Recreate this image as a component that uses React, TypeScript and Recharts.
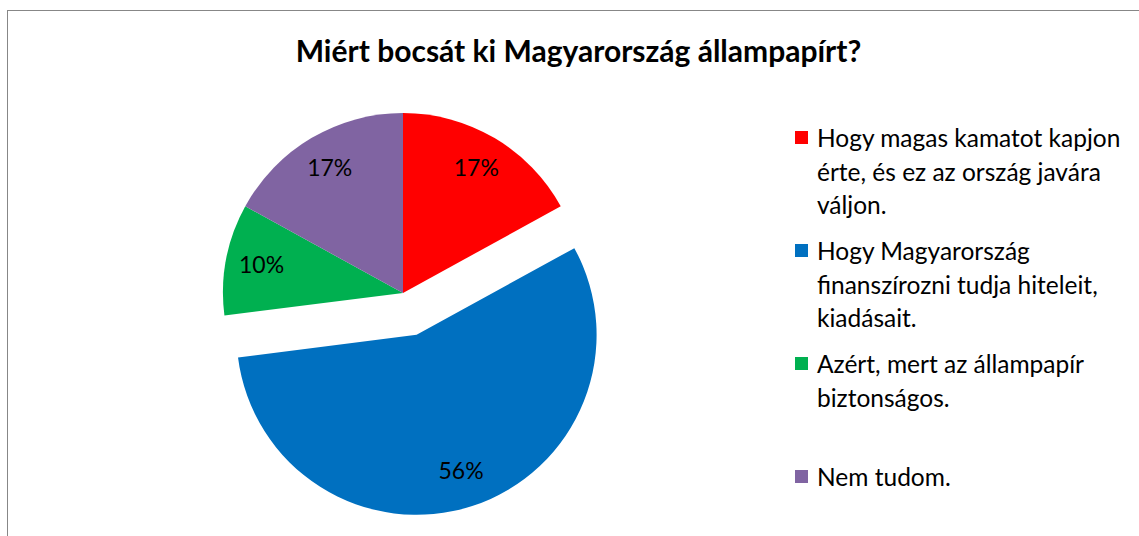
import React from "react"
import { PieChart, Pie, Cell, Legend } from "recharts"

// Miért bocsát ki Magyarország állampapírt? (survey answers, %)
const categories = [
  "Hogy magas kamatot kapjon\nérte, és ez az ország javára\nváljon.",
  "Hogy Magyarország\nfinanszírozni tudja hiteleit,\nkiadásait.",
  "Azért, mert az állampapír\nbiztonságos.",
  "Nem tudom.",
]
const shares = [17, 56, 10, 17]
const colors = ["#FF0000", "#0070C0", "#00B050", "#8064A2"]
const explodedIndex = 1

const title = "Miért bocsát ki Magyarország állampapírt?"

const FONT = "Lato, 'Open Sans', sans-serif"
const RAD = Math.PI / 180

const data = categories.map((name, i) => ({ name, value: shares[i] }))

const PIE_CX = 403
const PIE_CY = 293
const RADIUS = 180
const EXPLODE = 44

// direction of the exploded slice, clockwise from 12 o'clock
const total = shares.reduce((a, b) => a + b, 0)
const before = shares.slice(0, explodedIndex).reduce((a, b) => a + b, 0)
const midDeg = ((before + shares[explodedIndex] / 2) / total) * 360
const offX = EXPLODE * Math.sin(midDeg * RAD)
const offY = -EXPLODE * Math.cos(midDeg * RAD)

const makeLabel = (show: (i: number) => boolean) => (props: any) => {
  const { cx, cy, midAngle, outerRadius, percent, index } = props
  if (!show(index)) return null
  const r = outerRadius * 0.8
  const x = cx + r * Math.cos(-midAngle * RAD)
  const y = cy + r * Math.sin(-midAngle * RAD)
  return (
    <text
      x={x}
      y={y - 2}
      textAnchor="middle"
      dominantBaseline="central"
      fill="#000"
      fontFamily={FONT}
      fontSize={23}
    >
      {`${Math.round(percent * 100)}%`}
    </text>
  )
}

function LegendBox() {
  return (
    <div style={{ fontFamily: FONT, fontSize: 24.5, color: "#000" }}>
      {categories.map((c, i) => (
        <div key={i} style={{ height: 113, display: "flex", alignItems: "flex-start" }}>
          <span
            style={{
              display: "inline-block",
              width: 13,
              height: 13,
              background: colors[i],
              marginRight: 9,
              flex: "none",
            }}
          />
          <span style={{ whiteSpace: "pre", lineHeight: "33.5px", marginTop: -10 }}>{c}</span>
        </div>
      ))}
    </div>
  )
}

export default function App() {
  return (
    <div
      style={{
        position: "fixed",
        left: 0,
        top: 0,
        width: 1139,
        height: 536,
        overflow: "hidden",
        background: "#fff",
      }}
    >
      <div
        style={{
          position: "absolute",
          left: 7,
          top: 10,
          width: 1150,
          height: 560,
          border: "1px solid #878787",
          boxSizing: "border-box",
        }}
      />
      <div
        style={{
          position: "absolute",
          left: 0,
          top: 32,
          width: 1157,
          textAlign: "center",
          fontFamily: FONT,
          fontWeight: 700,
          fontSize: 30,
          lineHeight: "36px",
          color: "#000",
        }}
      >
        {title}
      </div>
      <PieChart
        width={1139}
        height={536}
        margin={{ top: 0, right: 0, bottom: 0, left: 0 }}
        style={{ position: "absolute", left: 0, top: 0 }}
      >
        <Pie
          data={data}
          dataKey="value"
          nameKey="name"
          cx={PIE_CX}
          cy={PIE_CY}
          outerRadius={RADIUS}
          startAngle={90}
          endAngle={-270}
          stroke="none"
          labelLine={false}
          label={makeLabel((i) => i !== explodedIndex)}
          isAnimationActive={false}
        >
          {data.map((d, i) => (
            <Cell key={`a-${i}`} fill={i === explodedIndex ? "transparent" : colors[i]} />
          ))}
        </Pie>
        <Pie
          data={data}
          dataKey="value"
          nameKey="name"
          cx={PIE_CX + offX}
          cy={PIE_CY + offY}
          outerRadius={RADIUS}
          startAngle={90}
          endAngle={-270}
          stroke="none"
          labelLine={false}
          label={makeLabel((i) => i === explodedIndex)}
          isAnimationActive={false}
        >
          {data.map((d, i) => (
            <Cell key={`b-${i}`} fill={i === explodedIndex ? colors[i] : "transparent"} />
          ))}
        </Pie>
        <Legend
          layout="vertical"
          align="right"
          verticalAlign="top"
          content={() => <LegendBox />}
          wrapperStyle={{ left: 795, top: 131, width: 344 }}
        />
      </PieChart>
    </div>
  )
}
